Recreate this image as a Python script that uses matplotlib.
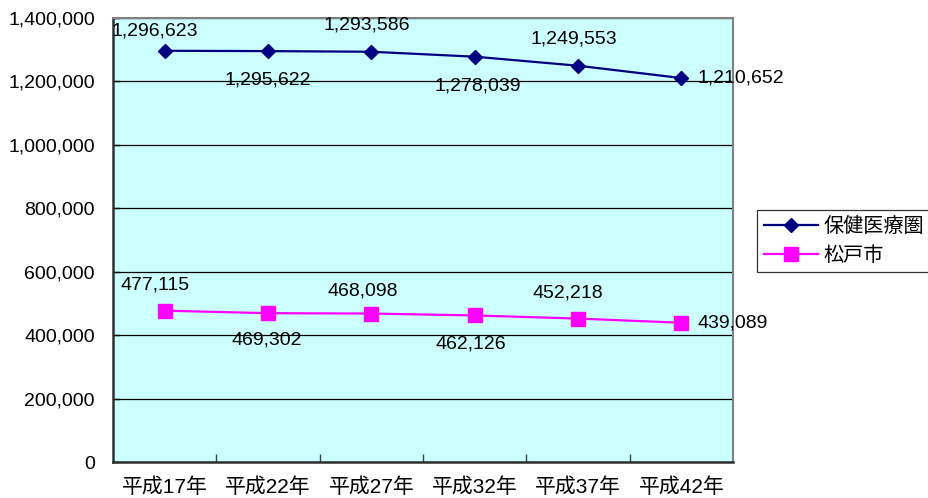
import matplotlib
matplotlib.use("Agg")
import matplotlib.pyplot as plt
from matplotlib.ticker import FuncFormatter, FixedLocator

plt.rcParams['font.family'] = ['Liberation Sans', 'Noto Sans CJK JP', 'DejaVu Sans']

categories = ["平成17年", "平成22年", "平成27年", "平成32年", "平成37年", "平成42年"]
region_values = [1296623, 1295622, 1293586, 1278039, 1249553, 1210652]
city_values = [477115, 469302, 468098, 462126, 452218, 439089]
series_names = ["保健医療圏", "松戸市"]

# label offsets in pixels (dx, dy, horizontal alignment)
region_offsets = [(-10, 20, 'center'), (0, -29, 'center'), (-5, 27, 'center'),
                  (3, -29, 'center'), (-4, 27, 'center'), (16, 0, 'left')]
city_offsets = [(-10, 26, 'center'), (-1, -27, 'center'), (-9, 23, 'center'),
                (-4, -29, 'center'), (-10, 26, 'center'), (16, 0, 'left')]

fig = plt.figure(figsize=(9.29, 4.98), dpi=100)
ax = fig.add_axes([113 / 929, 36 / 498, 620 / 929, 444 / 498])
ax.set_facecolor('#CCFFFF')

x = list(range(len(categories)))
ax.plot(x, region_values, color='#000080', lw=1.6, marker='D', markersize=7.6,
        label=series_names[0], zorder=3)
ax.plot(x, city_values, color='#FF00FF', lw=1.6, marker='s', markersize=10.5,
        label=series_names[1], zorder=3)

for xi, v, (dx, dy, ha) in zip(x, region_values, region_offsets):
    ax.annotate(f"{v:,}", (xi, v), xytext=(dx, dy), textcoords='offset pixels',
                ha=ha, va='center', fontsize=14, zorder=4)
for xi, v, (dx, dy, ha) in zip(x, city_values, city_offsets):
    ax.annotate(f"{v:,}", (xi, v), xytext=(dx, dy), textcoords='offset pixels',
                ha=ha, va='center', fontsize=14, zorder=4)

ax.set_xlim(-0.5, len(categories) - 0.5)
ax.set_ylim(0, 1400000)
ax.set_yticks(range(0, 1400001, 200000))
ax.yaxis.set_major_formatter(FuncFormatter(lambda v, p: f"{int(v):,}"))
ax.yaxis.grid(True, color='black', lw=0.9)
ax.set_axisbelow(True)

ax.xaxis.set_major_locator(FixedLocator([i + 0.5 for i in range(len(categories) - 1)]))
ax.xaxis.set_major_formatter(FuncFormatter(lambda v, p: ""))
ax.xaxis.set_minor_locator(FixedLocator(x))
ax.set_xticklabels(categories, minor=True)
ax.tick_params(axis='x', which='major', direction='in', length=6, width=1, color='#404040')
ax.tick_params(axis='x', which='minor', length=0, pad=11, labelsize=15)
ax.tick_params(axis='y', direction='in', length=5, width=1, pad=13, labelsize=14)

for side in ('top', 'right'):
    ax.spines[side].set_color('#808080')
    ax.spines[side].set_linewidth(1.5)
for side in ('left', 'bottom'):
    ax.spines[side].set_color('#303030')
    ax.spines[side].set_linewidth(1.8)

leg = fig.legend(loc='upper left', bbox_to_anchor=(757 / 929, 1 - 210 / 498),
                 frameon=True, fancybox=False, edgecolor='black', fontsize=14.5,
                 handlelength=2.7, handletextpad=0.25, borderpad=0.35, labelspacing=0.5,
                 borderaxespad=0)
leg.get_frame().set_linewidth(0.9)

fig.savefig('out.png', dpi=100)
